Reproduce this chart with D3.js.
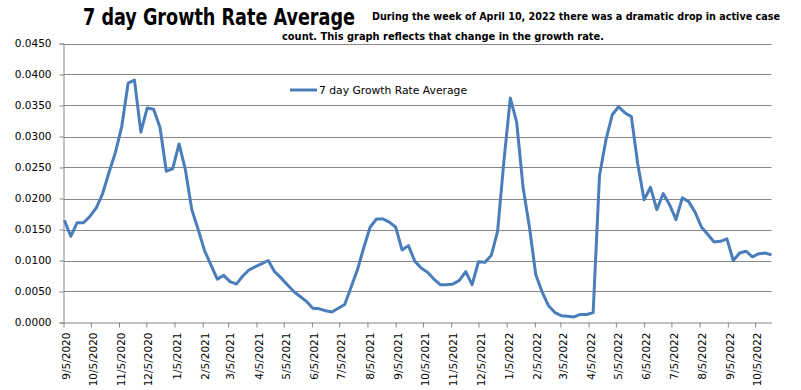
<!DOCTYPE html>
<html><head><meta charset="utf-8">
<script src="https://cdn.jsdelivr.net/npm/d3@7"></script>
<style>
body{margin:0;background:#fff;}
svg{display:block;}
</style></head>
<body><svg id="c" width="801" height="390"></svg>
<script>
// ---- data ----
const seriesName = "7 day Growth Rate Average";
const firstDate = "2020-09-06"; // weekly observations (Sundays)
const growthRate = [
 0.0165,0.0139,0.0161,0.0161,0.0171,0.0185,0.0208,0.0242,0.0274,0.0316,
 0.0386,0.0391,0.0307,0.0346,0.0344,0.0315,0.0244,0.0248,0.0288,0.0246,
 0.0182,0.0150,0.0116,0.0093,0.0070,0.0076,0.0066,0.0062,0.0075,0.0085,
 0.0090,0.0095,0.0100,0.0082,0.0072,0.0061,0.0050,0.0042,0.0034,0.0023,
 0.0022,0.0019,0.0017,0.0023,0.0029,0.0057,0.0085,0.0121,0.0154,0.0167,
 0.0167,0.0162,0.0154,0.0117,0.0124,0.0099,0.0088,0.0081,0.0070,0.0061,
 0.0061,0.0062,0.0068,0.0082,0.0061,0.0098,0.0097,0.0108,0.0147,0.0261,
 0.0362,0.0323,0.0218,0.0154,0.0077,0.0049,0.0027,0.0016,0.0011,0.0010,
 0.0009,0.0013,0.0013,0.0016,0.0237,0.0294,0.0335,0.0348,0.0338,0.0332,
 0.0256,0.0198,0.0218,0.0182,0.0208,0.0190,0.0166,0.0201,0.0195,0.0178,
 0.0154,0.0142,0.0130,0.0131,0.0135,0.0100,0.0112,0.0115,0.0106,0.0111,
 0.0112,0.0109
];
const xTickLabels = ["9/5/2020","10/5/2020","11/5/2020","12/5/2020","1/5/2021","2/5/2021","3/5/2021",
 "4/5/2021","5/5/2021","6/5/2021","7/5/2021","8/5/2021","9/5/2021","10/5/2021","11/5/2021","12/5/2021",
 "1/5/2022","2/5/2022","3/5/2022","4/5/2022","5/5/2022","6/5/2022","7/5/2022","8/5/2022","9/5/2022","10/5/2022"];
const yTicks = [0,0.005,0.010,0.015,0.020,0.025,0.030,0.035,0.040,0.045];
const xDomain = ["2020-09-05","2022-10-23"];
const titleText = "7 day Growth Rate Average";
const noteLine1 = "During the week of April 10, 2022 there was a dramatic drop in active case";
const noteLine2 = "count.  This graph reflects that change in the growth rate.";

// ---- chart ----
const parseISO = d3.utcParse("%Y-%m-%d");
const parseMDY = d3.utcParse("%m/%d/%Y");
const start = parseISO(firstDate);
const data = growthRate.map((v,i)=>({date:d3.utcDay.offset(start,7*i), value:v}));

const svg = d3.select("#c");
const L = 63.5, R = 771.5, T = 43.5, B = 322.5;
const x = d3.scaleUtc().domain(xDomain.map(parseISO)).range([L,R]);
const y = d3.scaleLinear().domain([0,0.045]).range([B,T]);
const grey = "#868686";
const font = "'DejaVu Sans', Verdana, sans-serif";

// gridlines
svg.append("g").selectAll("line").data(yTicks.filter(d=>d>0)).join("line")
  .attr("x1",L).attr("x2",R).attr("y1",d=>Math.round(y(d))+0.5).attr("y2",d=>Math.round(y(d))+0.5)
  .attr("stroke",grey).attr("stroke-width",1);

// y axis
const yAxis = d3.axisLeft(y).tickValues(yTicks).tickFormat(d3.format(".4f")).tickSize(4).tickPadding(8);
const gy = svg.append("g").attr("transform",`translate(${L},0)`).call(yAxis);
gy.select(".domain").attr("stroke",grey);
gy.selectAll(".tick line").attr("stroke",grey);
gy.selectAll("text").attr("font-family",font).attr("font-size","10.5px").attr("fill","#000");

// x axis
const xTickDates = xTickLabels.map(parseMDY);
const xAxis = d3.axisBottom(x).tickValues(xTickDates).tickFormat((d,i)=>xTickLabels[i]).tickSize(5).tickSizeOuter(0);
const gx = svg.append("g").attr("transform",`translate(0,${B})`).call(xAxis);
gx.select(".domain").attr("stroke",grey);
gx.selectAll(".tick line").attr("stroke",grey);
gx.selectAll("text").attr("font-family",font).attr("font-size","10.5px").attr("fill","#000")
  .attr("text-anchor","end").attr("transform","rotate(-90)")
  .attr("x",-10).attr("y",2).attr("dy","0.35em");

// line
const line = d3.line().x(d=>x(d.date)).y(d=>y(d.value));
svg.append("path").datum(data).attr("d",line).attr("fill","none")
  .attr("stroke","#4a7ebb").attr("stroke-width",3).attr("stroke-linejoin","round");

// legend
svg.append("line").attr("x1",290).attr("x2",317).attr("y1",90).attr("y2",90)
  .attr("stroke","#4a7ebb").attr("stroke-width",3);
svg.append("text").attr("x",319).attr("y",90).attr("dy","0.35em")
  .attr("font-family",font).attr("font-size","10.5px").attr("fill","#000")
  .attr("textLength",148).attr("lengthAdjust","spacingAndGlyphs").text(seriesName);

// titles
const tfont = "'Liberation Sans Narrow','DejaVu Sans Condensed','Arial Narrow',sans-serif";
svg.append("text").attr("x",83).attr("y",25).attr("font-family",tfont).attr("font-weight","bold")
  .attr("font-size","23px").attr("textLength",272).attr("lengthAdjust","spacingAndGlyphs").text(titleText);
svg.append("text").attr("x",372).attr("y",20).attr("font-family",tfont).attr("font-weight","bold")
  .attr("font-size","11px").attr("textLength",408).attr("lengthAdjust","spacingAndGlyphs").text(noteLine1);
svg.append("text").attr("x",282).attr("y",40).attr("font-family",tfont).attr("font-weight","bold")
  .attr("font-size","11px").attr("textLength",322).attr("lengthAdjust","spacingAndGlyphs").text(noteLine2);
</script></body></html>
